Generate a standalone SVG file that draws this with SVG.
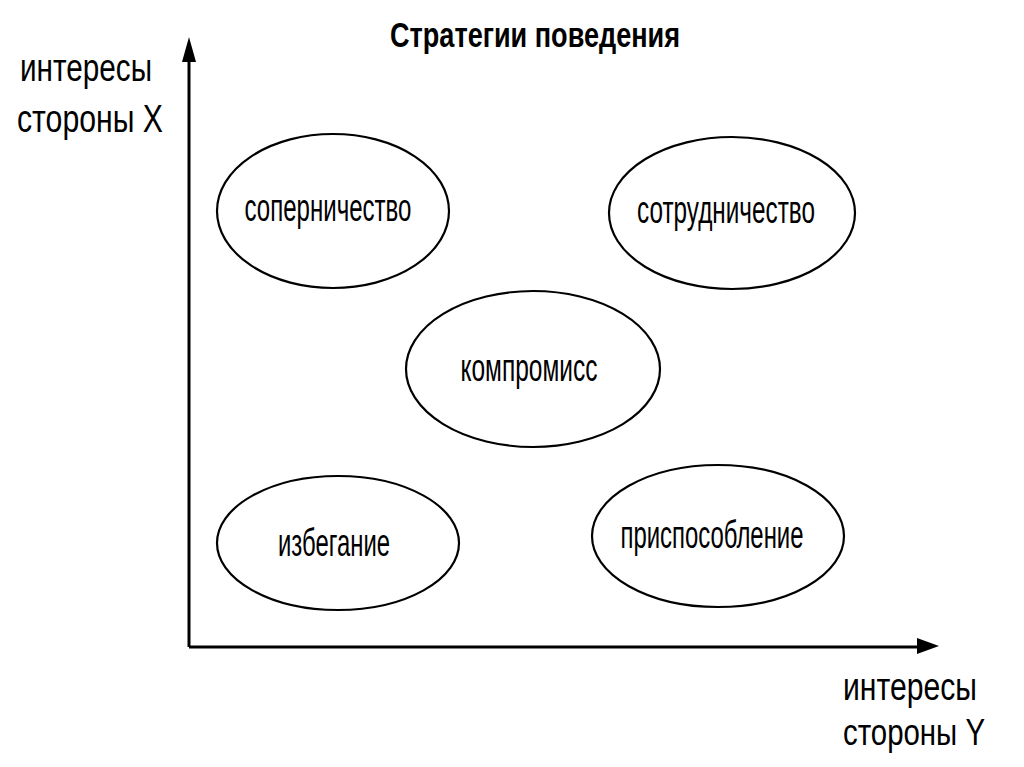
<svg xmlns="http://www.w3.org/2000/svg" width="1024" height="767" viewBox="0 0 1024 767">
<style>
.lbl{font-family:"Liberation Sans",Arial,sans-serif;font-size:38px;fill:#000}
.nt{font-family:"Liberation Sans",Arial,sans-serif;font-size:39px;fill:#000;text-anchor:middle}
.title{font-family:"Liberation Sans",Arial,sans-serif;font-size:35px;font-weight:bold;fill:#000}
.el{fill:#fff;stroke:#000;stroke-width:2.2}
.ax{stroke:#000;stroke-width:3;fill:none}
</style>
<rect width="1024" height="767" fill="#fff"/>
<text class="title" x="390" y="47" textLength="290" lengthAdjust="spacingAndGlyphs">Стратегии поведения</text>
<text class="lbl" x="20" y="81" textLength="132" lengthAdjust="spacingAndGlyphs">интересы</text>
<text class="lbl" x="17" y="132" textLength="146" lengthAdjust="spacingAndGlyphs">стороны X</text>
<text class="lbl" x="843" y="700" textLength="134" lengthAdjust="spacingAndGlyphs">интересы</text>
<text class="lbl" x="843" y="745" style="font-size:36px" textLength="142" lengthAdjust="spacingAndGlyphs">стороны Y</text>
<g id="axes">
<path class="ax" d="M189,647 L189,60 M189,647 L920,647"/>
<polygon points="189,37 182,62 196,62" fill="#000"/>
<polygon points="939,646 917,638 917,654" fill="#000"/>
</g>
<g id="n1"><ellipse class="el" cx="333" cy="211" rx="116" ry="77"/><text class="nt" x="328" y="221" textLength="167" lengthAdjust="spacingAndGlyphs">соперничество</text></g>
<g id="n2"><ellipse class="el" cx="732" cy="213" rx="123" ry="76"/><text class="nt" x="726" y="223" textLength="178" lengthAdjust="spacingAndGlyphs">сотрудничество</text></g>
<g id="n3"><ellipse class="el" cx="533" cy="369" rx="127" ry="78"/><text class="nt" x="529" y="381" textLength="137" lengthAdjust="spacingAndGlyphs">компромисс</text></g>
<g id="n4"><ellipse class="el" cx="338" cy="543" rx="121" ry="67"/><text class="nt" x="334" y="556" textLength="112" lengthAdjust="spacingAndGlyphs">избегание</text></g>
<g id="n5"><ellipse class="el" cx="718" cy="536" rx="126" ry="71"/><text class="nt" x="712" y="548" textLength="183" lengthAdjust="spacingAndGlyphs">приспособление</text></g>
</svg>
